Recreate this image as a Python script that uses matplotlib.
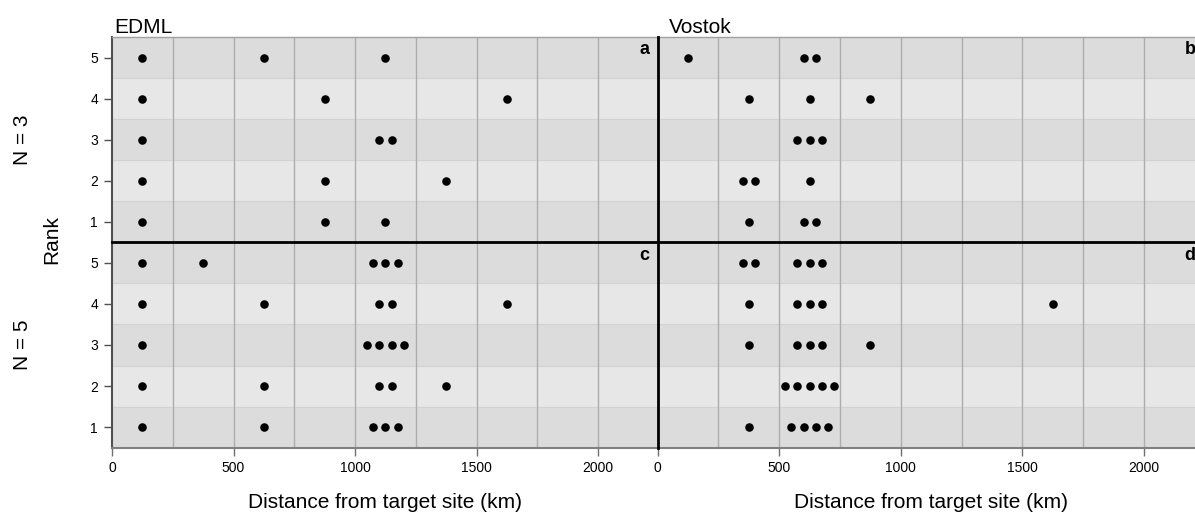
import matplotlib.pyplot as plt
from matplotlib.lines import Line2D
from collections import Counter

plt.rcParams['font.family'] = ['Liberation Sans', 'DejaVu Sans']

# distance bins (km, bin centres) of the selected sites, listed for rank 1..5
ranks = [1, 2, 3, 4, 5]
edml_n3 = [[125, 875, 1125], [125, 875, 1375], [125, 1125, 1125],
           [125, 875, 1625], [125, 625, 1125]]
vostok_n3 = [[375, 625, 625], [375, 375, 625], [625, 625, 625],
             [375, 625, 875], [125, 625, 625]]
edml_n5 = [[125, 625, 1125, 1125, 1125], [125, 625, 1125, 1125, 1375],
           [125, 1125, 1125, 1125, 1125], [125, 625, 1125, 1125, 1625],
           [125, 375, 1125, 1125, 1125]]
vostok_n5 = [[375, 625, 625, 625, 625], [625, 625, 625, 625, 625],
             [375, 625, 625, 625, 875], [375, 625, 625, 625, 1625],
             [375, 375, 625, 625, 625]]

sites = ['EDML', 'Vostok']
panel_letters = ['a', 'b', 'c', 'd']
xticks = [0, 500, 1000, 1500, 2000]

W, H = 1195, 513
fig = plt.figure(figsize=(W / 100, H / 100), dpi=100)

def px(x0, y0, x1, y1):
    return [x0 / W, 1 - y1 / H, (x1 - x0) / W, (y1 - y0) / H]

pw = 545.7
boxes = [px(112, 37, 112 + pw, 242), px(657.7, 37, 657.7 + pw, 242),
         px(112, 242, 112 + pw, 448), px(657.7, 242, 657.7 + pw, 448)]
panels = [edml_n3, vostok_n3, edml_n5, vostok_n5]

dark, light = '#DCDCDC', '#E7E7E7'

for k, (box, data) in enumerate(zip(boxes, panels)):
    ax = fig.add_axes(box)
    ax.set_xlim(0, 2245)
    ax.set_ylim(0.5, 5.5)
    for r in ranks:
        ax.axhspan(r - 0.5, r + 0.5, color=dark if r % 2 else light, lw=0, zorder=0)
    for r in ranks[:-1]:
        ax.axhline(r + 0.5, color='#D2D2D2', lw=0.8, zorder=0.5)
    for g in range(250, 2250, 250):
        ax.axvline(g, color='#ADADAD', lw=1.0, zorder=1)

    xs, ys = [], []
    for r, vals in zip(ranks, data):
        for centre, n in Counter(vals).items():
            for i in range(n):
                xs.append(centre + (i - (n - 1) / 2) * 50)
                ys.append(r)
    ax.scatter(xs, ys, s=38, color='black', zorder=3, linewidths=0)

    ax.text(1 - 8 / pw, 1 - 13 / 205, panel_letters[k], transform=ax.transAxes,
            ha='right', va='center', fontsize=13, fontweight='bold')

    col, row = k % 2, k // 2
    for s in ax.spines.values():
        s.set_linewidth(1.0)
    ax.spines['top'].set_color('#A0A0A0')
    ax.spines['right'].set_visible(False)
    if col == 0:
        ax.spines['left'].set_color('#505050')
        ax.spines['left'].set_linewidth(1.5)
        ax.set_yticks(ranks)
        ax.tick_params(axis='y', length=6, width=1, color='#505050', pad=4,
                       labelsize=10)
    else:
        ax.spines['left'].set_visible(False)
        ax.set_yticks([])
    if row == 0:
        ax.spines['bottom'].set_visible(False)
        ax.set_xticks([])
        ax.set_title(sites[col], loc='left', fontsize=15, pad=3,
                     x=(2 if col == 0 else 11) / pw)
    else:
        ax.spines['top'].set_visible(False)
        ax.spines['bottom'].set_color('#808080')
        ax.spines['bottom'].set_linewidth(1.5)
        ax.set_xticks(xticks)
        ax.tick_params(axis='x', length=6, width=1, color='#707070', pad=3,
                       labelsize=10)
        ax.set_xlabel('Distance from target site (km)', fontsize=15, labelpad=13)

# black separators between the four panels
fig.add_artist(Line2D([112 / W, 1], [1 - 242 / H] * 2, color='black', lw=2.0))
fig.add_artist(Line2D([657.7 / W] * 2, [1 - 37 / H, 1 - 448 / H], color='black',
                      lw=2.0))

fig.text(52 / W, 1 - 240 / H, 'Rank', rotation=90, ha='center', va='center',
         fontsize=15)
fig.text(22 / W, 1 - 140 / H, 'N = 3', rotation=90, ha='center', va='center',
         fontsize=15)
fig.text(22 / W, 1 - 345 / H, 'N = 5', rotation=90, ha='center', va='center',
         fontsize=15)

fig.savefig('out.png', dpi=100)
